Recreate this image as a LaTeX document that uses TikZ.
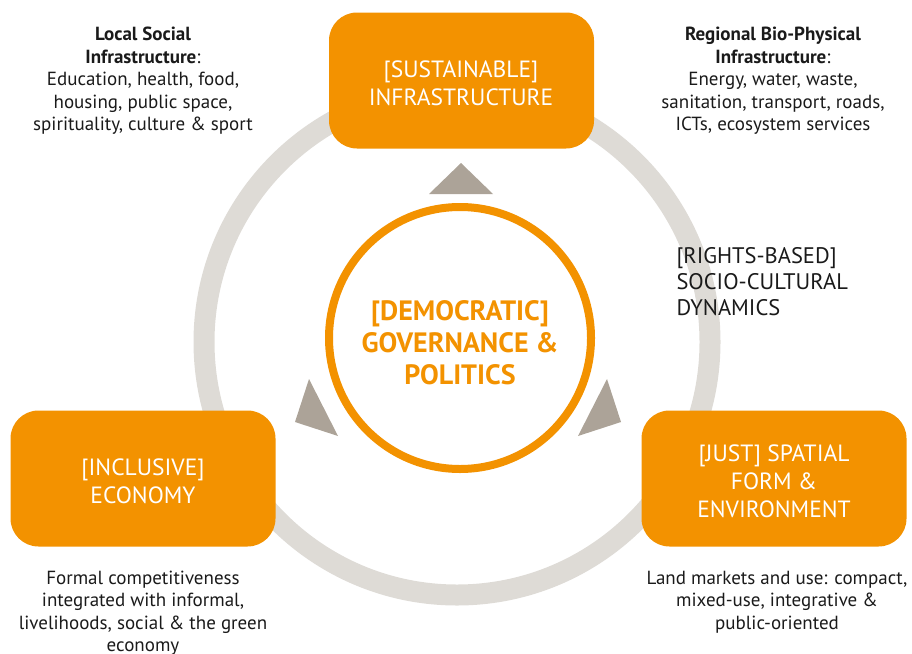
\documentclass[tikz,border=0pt]{standalone}
\usepackage{fontspec}
\setmainfont{PT Sans}
\definecolor{orng}{HTML}{F39200}
\definecolor{ringgrey}{HTML}{DEDBD6}
\definecolor{trigrey}{HTML}{ACA398}
\definecolor{txt}{HTML}{1A1A1A}
\begin{document}
\begin{tikzpicture}[x=1pt,y=-1pt,
  box/.style={fill=orng, rounded corners=28pt, minimum width=265pt, minimum height=136pt, inner sep=0pt},
  boxtext/.style={text=white, align=center, font=\fontsize{23.5}{28}\selectfont},
  note/.style={text=txt, align=center, font=\fontsize{19}{22.5}\selectfont},
  tri/.style={fill=trigrey}]
\useasboundingbox (0,0) rectangle (912,653);
% grey ring
\draw[ringgrey, line width=21pt] (457,342) circle [radius=253];
% triangles
\fill[tri] (461,163) -- (429,194) -- (493,194) -- cycle;
\fill[tri] (309,379) -- (295,422) -- (338,436) -- cycle;
\fill[tri] (607,379) -- (621,422) -- (578,436) -- cycle;
% centre circle
\node[circle, draw=orng, line width=8pt, fill=white, minimum size=262pt, inner sep=0pt] (gov) at (460,338) {};
\node[text=orng, align=center, font=\bfseries\fontsize{28}{32}\selectfont] (govt) at (460,343) {[DEMOCRATIC]\\GOVERNANCE \&\\POLITICS};
% boxes
\node[box] (inf) at (461.5,80.5) {};
\node[boxtext] (inft) at (461,83) {[SUSTAINABLE]\\INFRASTRUCTURE};
\node[box] (eco) at (143,478.5) {};
\node[boxtext] (ecot) at (143,481) {[INCLUSIVE]\\ECONOMY};
\node[box] (spa) at (774,478.5) {};
\node[boxtext] (spat) at (774,481) {[JUST] SPATIAL\\FORM \&\\ENVIRONMENT};
% side label
\node[text=txt, align=left, anchor=west, font=\fontsize{22.5}{26}\selectfont] (rights) at (673,282) {[RIGHTS-BASED]\\SOCIO-CULTURAL\\DYNAMICS};
% notes
\node[note] (n1) at (143,81) {\textbf{Local Social}\\\textbf{Infrastructure}:\\Education, health, food,\\housing, public space,\\spirituality, culture \& sport};
\node[note] (n2) at (773,81) {\textbf{Regional Bio-Physical}\\\textbf{Infrastructure}:\\Energy, water, waste,\\sanitation, transport, roads,\\ICTs, ecosystem services};
\node[note] (n3) at (143,613) {Formal competitiveness\\integrated with informal,\\livelihoods, social \& the green\\economy};
\node[note] (n4) at (777,602) {Land markets and use: compact,\\mixed-use, integrative \&\\public-oriented};
\end{tikzpicture}
\end{document}
